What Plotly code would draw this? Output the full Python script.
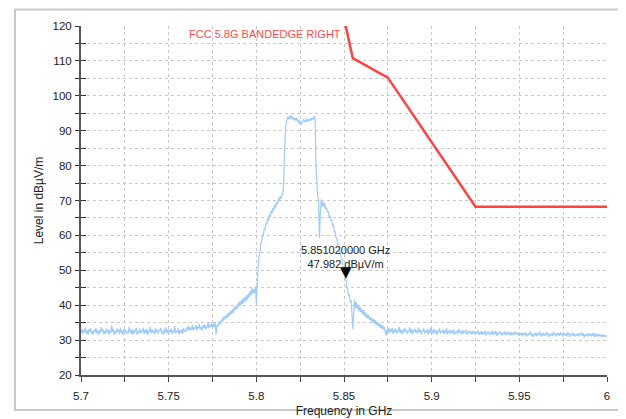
import plotly.graph_objects as go

# sweep definition of the measured spectrum (GHz)
sweep_start = 5.7
sweep_step = 0.0005

# measured level in dBuV/m, one value per sweep step (5.700 ... 6.000 GHz)
level = [
    # 5.700 - 5.7595
    32.0, 33.2, 31.7, 32.9, 32.3, 33.6, 31.9, 32.8, 31.5, 33.1,
    32.4, 33.4, 31.8, 32.6, 31.6, 33.0, 32.2, 33.5, 31.9, 32.7,
    31.4, 32.9, 32.1, 33.7, 32.5, 33.2, 31.7, 32.6, 31.8, 33.3,
    32.2, 33.0, 31.6, 32.8, 32.0, 34.2, 32.4, 33.1, 31.5, 32.6,
    31.9, 33.4, 32.3, 32.9, 31.7, 33.6, 32.1, 32.7, 31.4, 33.2,
    32.5, 33.0, 31.8, 32.4, 32.0, 33.8, 32.2, 32.9, 31.6, 33.1,
    31.8, 32.7, 32.4, 33.5, 31.5, 32.6, 32.0, 33.3, 31.9, 32.8,
    32.3, 33.6, 31.7, 32.9, 32.1, 33.2, 31.4, 32.6, 32.5, 33.9,
    31.9, 33.1, 32.2, 32.7, 31.6, 33.4, 32.3, 32.8, 31.8, 33.0,
    32.6, 33.5, 31.9, 32.4, 31.5, 33.2, 32.1, 33.7, 32.0, 32.9,
    31.7, 33.0, 32.4, 33.3, 31.8, 32.7, 32.2, 34.0, 31.9, 32.6,
    32.3, 33.4, 31.6, 32.9, 32.1, 33.1, 31.8, 33.5, 32.4, 32.8,
    # 5.760 - 5.7795
    32.6, 33.8, 32.9, 34.1, 32.7, 33.5, 33.0, 34.4, 32.8, 33.6,
    33.2, 34.3, 32.9, 33.9, 33.4, 34.6, 33.1, 33.8, 32.7, 34.2,
    33.5, 34.5, 33.0, 34.0, 33.6, 35.1, 33.3, 34.2, 33.8, 34.9,
    33.4, 34.6, 33.9, 35.0, 31.6, 34.3, 33.8, 35.3, 34.4, 35.5,
    # 5.780 - 5.7995
    35.0, 36.2, 35.4, 36.8, 35.9, 37.0, 36.3, 37.6, 36.5, 38.1,
    37.2, 38.4, 37.5, 38.9, 37.8, 39.6, 38.6, 39.8, 38.9, 40.5,
    39.6, 41.1, 39.9, 41.5, 40.3, 42.0, 40.8, 42.4, 41.2, 42.9,
    41.6, 43.4, 42.3, 44.1, 42.8, 45.0, 43.2, 44.6, 43.5, 45.4,
    # 5.800 - 5.8175
    40.6, 47.0, 50.5, 54.0, 55.2, 57.6, 58.1, 59.8, 59.9, 62.0,
    61.6, 63.6, 63.1, 64.8, 64.2, 66.0, 65.3, 67.1, 66.4, 67.9,
    67.2, 68.8, 68.0, 69.6, 68.9, 70.5, 69.8, 71.2, 70.4, 72.0,
    71.6, 74.2, 84.0, 89.5, 92.0, 93.5,
    # 5.818 - 5.8335
    94.0, 93.2, 94.2, 93.5, 94.4, 93.3, 93.9, 92.9, 93.6, 93.0,
    93.7, 92.6, 93.2, 91.9, 92.8, 91.6, 92.5, 92.9, 93.3, 92.4,
    93.1, 92.6, 93.5, 92.7, 93.2, 92.8, 93.6, 93.0, 93.7, 93.2,
    94.2, 93.5,
    # 5.834 - 5.8755
    80.0, 72.5, 71.2, 70.0, 59.2, 66.5, 70.3, 68.4, 69.6, 68.1,
    69.3, 67.5, 68.0, 66.6, 66.9, 65.4, 65.6, 64.2, 64.3, 62.8,
    62.9, 60.9, 61.0, 59.2, 59.1, 57.5, 57.3, 55.4, 55.0, 53.2,
    52.8, 50.9, 50.4, 48.8, 47.98, 45.6, 44.9, 42.8, 43.2, 40.9,
    41.5, 38.0, 33.2, 37.5, 41.6, 39.2, 40.8, 39.0, 40.1, 38.2,
    39.6, 38.0, 39.0, 37.4, 38.6, 37.0, 38.1, 36.4, 37.5, 36.3,
    37.2, 35.8, 36.6, 35.4, 36.3, 35.0, 36.0, 34.6, 35.7, 34.4,
    35.2, 34.0, 34.9, 33.6, 34.5, 33.2, 34.3, 33.0, 33.8, 32.6,
    31.3, 33.0, 32.2, 33.5,
    # 5.876 - 5.9245
    32.1, 33.2, 32.4, 33.6, 31.8, 32.9, 32.3, 33.4, 31.9, 32.7,
    32.5, 33.8, 32.0, 33.1, 31.7, 32.8, 32.2, 33.5, 32.4, 33.0,
    31.8, 32.6, 32.3, 33.7, 32.0, 33.2, 31.6, 32.9, 32.5, 33.3,
    32.1, 32.8, 31.9, 33.6, 32.3, 33.0, 31.7, 32.7, 32.4, 33.4,
    31.9, 32.6, 32.2, 33.1, 31.6, 32.9, 32.0, 33.5, 32.3, 32.8,
    31.8, 33.2, 32.1, 32.7, 31.5, 32.6, 32.4, 33.3, 31.9, 32.5,
    32.2, 33.0, 31.7, 32.8, 32.0, 33.4, 31.6, 32.5, 32.3, 32.9,
    31.8, 32.7, 32.1, 33.1, 31.5, 32.4, 32.0, 32.8, 31.7, 33.2,
    32.2, 32.6, 31.6, 32.9, 31.9, 32.5, 32.3, 33.0, 31.5, 32.4,
    32.0, 32.8, 31.8, 32.5, 31.6, 32.7, 32.1, 32.4,
    # 5.925 - 5.9495
    31.6, 32.5, 31.9, 32.8, 31.4, 32.3, 31.7, 32.6, 31.5, 32.2,
    31.8, 32.7, 31.3, 32.4, 31.9, 32.5, 31.5, 32.1, 31.7, 32.8,
    31.4, 32.3, 31.8, 32.6, 31.2, 32.2, 31.6, 32.5, 31.9, 32.3,
    31.3, 32.0, 31.7, 32.6, 31.5, 32.2, 31.4, 32.4, 31.8, 32.1,
    31.2, 32.3, 31.6, 32.0, 31.4, 32.5, 31.7, 32.2, 31.5, 32.0,
    # 5.950 - 6.000
    31.2, 32.0, 31.4, 32.2, 31.1, 31.9, 31.5, 32.3, 31.0, 31.8,
    31.3, 32.1, 31.6, 32.4, 31.2, 31.7, 30.9, 31.9, 31.4, 32.2,
    31.1, 31.8, 31.5, 32.5, 31.3, 31.9, 31.0, 32.1, 31.4, 31.8,
    31.2, 32.3, 31.6, 31.9, 30.9, 31.7, 31.3, 32.0, 31.1, 32.4,
    31.5, 31.8, 31.0, 32.1, 31.4, 31.9, 31.2, 32.2, 31.6, 31.7,
    31.0, 32.0, 31.3, 31.8, 31.1, 32.3, 31.5, 31.9, 30.9, 31.7,
    31.4, 32.1, 31.2, 31.8, 31.0, 31.6, 31.3, 32.0, 31.1, 31.7,
    31.5, 32.2, 31.2, 31.9, 30.8, 31.6, 31.3, 31.8, 31.0, 32.0,
    31.4, 31.7, 31.1, 31.9, 31.2, 32.1, 30.9, 31.6, 31.3, 31.8,
    31.0, 31.7, 31.2, 31.5, 30.8, 31.6, 31.1, 31.4, 30.9, 31.3,
    31.1,
]

# FCC 5.8G band edge limit line
limit_freq = [5.85, 5.855, 5.875, 5.925, 6.0]
limit_level = [122.2, 110.8, 105.2, 68.2, 68.2]
limit_name = "FCC 5.8G BANDEDGE RIGHT"

# marker
marker_freq = 5.85102
marker_level = 47.982

grid = dict(gridcolor="#c8c8c8", griddash="dot", gridwidth=1)
font = "Liberation Sans, Arial, sans-serif"

fig = go.Figure()

fig.add_trace(go.Scatter(
    x0=sweep_start, dx=sweep_step, y=level,
    mode="lines", line=dict(color="#9fcbfb", width=1.2),
    showlegend=False, hoverinfo="skip",
))

fig.add_trace(go.Scatter(
    x=limit_freq, y=limit_level,
    mode="lines", line=dict(color="#ff4343", width=2.5),
    showlegend=False,
))

# empty trace so the overlay axis (inner half of the y ticks) is drawn
fig.add_trace(go.Scatter(
    x=[marker_freq], y=[marker_level], yaxis="y2",
    mode="none", showlegend=False, hoverinfo="skip",
))

# limit line label
fig.add_annotation(
    x=limit_freq[0], y=117.7, xref="x", yref="y",
    text=limit_name, showarrow=False,
    xanchor="right", yanchor="middle", xshift=-1,
    font=dict(color="#ff4a4a", size=11, family=font),
)

# marker triangle and readout
fig.add_annotation(
    x=marker_freq, y=marker_level, xref="x", yref="y",
    text="▼", showarrow=False, xanchor="center", yanchor="bottom",
    yshift=-6, font=dict(color="black", size=15, family="DejaVu Sans"),
)
fig.add_annotation(
    x=marker_freq, y=marker_level, xref="x", yref="y",
    text=f"{marker_freq:.9f} GHz<br>{marker_level:.3f} dBµV/m",
    showarrow=False, xanchor="center", yanchor="bottom", yshift=5,
    font=dict(color="#222", size=11, family=font),
)

# outer frame
fig.add_shape(
    type="rect", xref="paper", yref="paper",
    x0=-0.1255, x1=1.0304, y0=-0.1003, y1=1.047,
    line=dict(color="#c9c9c9", width=2),
)

fig.update_xaxes(
    range=[5.7, 6.0], tick0=5.7, dtick=0.05,
    ticks="outside", ticklen=5, tickcolor="#444", tickwidth=1,
    ticklabelstandoff=4,
    showline=True, linecolor="#555", linewidth=2,
    minor=dict(dtick=0.025, ticks="outside", ticklen=5, tickcolor="#444",
               showgrid=True, **grid),
    showgrid=True, **grid, zeroline=False,
    title=dict(text="Frequency in GHz", standoff=6,
               font=dict(size=12, family=font, color="#222")),
    tickfont=dict(size=11.5, family=font, color="#222"),
    automargin=False,
)

fig.update_layout(
    yaxis=dict(
        range=[20, 120], tick0=20, dtick=10,
        ticks="outside", ticklen=4, tickcolor="#333", tickwidth=1,
        ticklabelstandoff=1,
        showline=True, linecolor="#555", linewidth=2,
        minor=dict(dtick=5, ticks="outside", ticklen=4, tickcolor="#333",
                   showgrid=True, **grid),
        showgrid=True, **grid, zeroline=False,
        title=dict(text="Level in dBµV/m", standoff=6,
                   font=dict(size=12, family=font, color="#222")),
        tickfont=dict(size=11.5, family=font, color="#222"),
        automargin=False,
    ),
    yaxis2=dict(
        overlaying="y", side="left", anchor="x",
        range=[20, 120], tick0=20, dtick=10,
        ticks="inside", ticklen=5, tickcolor="#333", tickwidth=1,
        minor=dict(dtick=5, ticks="inside", ticklen=5, tickcolor="#333"),
        showticklabels=False, showgrid=False, zeroline=False,
        showline=False, automargin=False,
    ),
    width=618, height=411,
    margin=dict(l=73, r=19, t=18, b=44),
    plot_bgcolor="white", paper_bgcolor="white",
    font=dict(family=font),
)

fig.write_html("out.html")
